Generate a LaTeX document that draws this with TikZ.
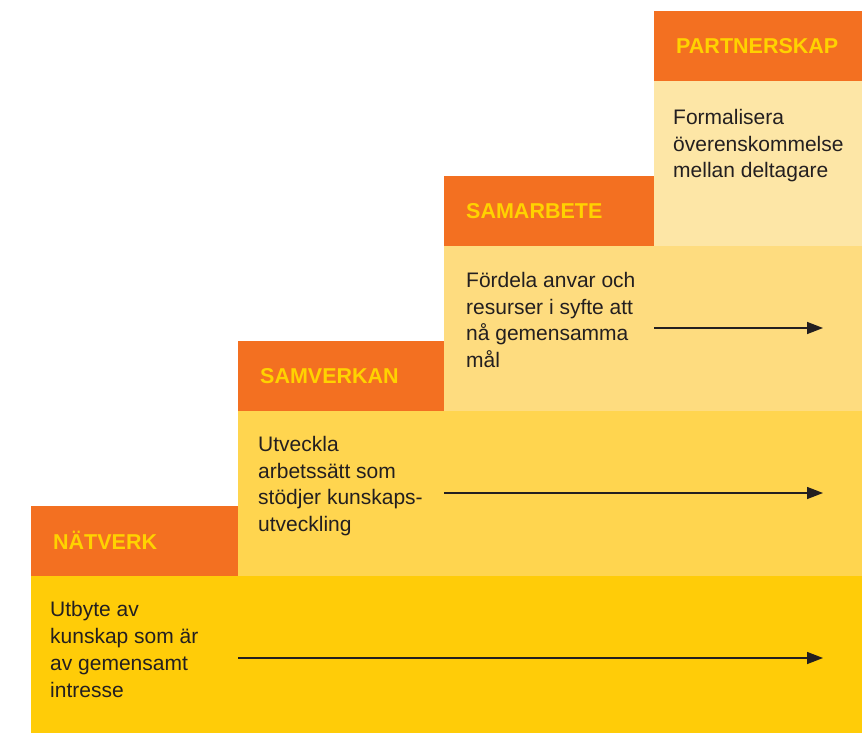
\documentclass[tikz,border=0pt]{standalone}
\usepackage{fontspec}
\setmainfont{Liberation Sans}
\usetikzlibrary{positioning, arrows.meta}
\definecolor{stegorange}{HTML}{F37021}
\definecolor{rubrikgul}{HTML}{FFD200}
\definecolor{bandett}{HTML}{FFCC08}
\definecolor{bandtva}{HTML}{FFD54F}
\definecolor{bandtre}{HTML}{FEDC7F}
\definecolor{bandfyra}{HTML}{FDE6A6}
\definecolor{textgra}{HTML}{231F20}

\begin{document}
\begin{tikzpicture}[x = 1pt, y = -1pt,
  band/.style = {anchor = north west, inner sep = 0pt, minimum height = 165pt},
  rubrik/.style = {fill = stegorange, text = rubrikgul, minimum height = 70pt,
    inner xsep = 22pt, inner ysep = 0pt, align = left,
    font = \bfseries\fontsize{21.5}{24}\selectfont},
  brodtext/.style = {inner sep = 0pt, align = left, text = textgra,
    font = \fontsize{21}{26.7}\selectfont},
  pil/.style = {-{Triangle[length = 16pt, width = 12pt]}, line width = 1.4pt, draw = textgra}]
\useasboundingbox (0, 0) rectangle (865, 733);

% steg 1
\node[band, fill = bandett, minimum width = 831pt, minimum height = 157pt] (natverkband) at (31, 576) {};
\node[rubrik, text width = 163pt, above right = 0pt and 0pt of natverkband.north west] (natverk) {NÄTVERK};
\node[brodtext, below right = 25.5pt and 19pt of natverkband.north west] (natverktext)
  {Utbyte av\\kunskap som är\\av gemensamt\\intresse};

% steg 2
\node[band, fill = bandtva, minimum width = 624pt] (samverkanband) at (238, 411) {};
\node[rubrik, text width = 162pt, above right = 0pt and 0pt of samverkanband.north west] (samverkan) {SAMVERKAN};
\node[brodtext, below right = 25pt and 20pt of samverkanband.north west] (samverkantext)
  {Utveckla\\arbetssätt som\\stödjer kunskaps-\\utveckling};

% steg 3
\node[band, fill = bandtre, minimum width = 418pt] (samarbeteband) at (444, 246) {};
\node[rubrik, text width = 166pt, above right = 0pt and 0pt of samarbeteband.north west] (samarbete) {SAMARBETE};
\node[brodtext, below right = 26pt and 22pt of samarbeteband.north west] (samarbetetext)
  {Fördela anvar och\\resurser i syfte att\\nå gemensamma\\mål};

% steg 4
\node[band, fill = bandfyra, minimum width = 208pt] (partnerskapband) at (654, 81) {};
\node[rubrik, text width = 164pt, above right = 0pt and 0pt of partnerskapband.north west] (partnerskap) {PARTNERSKAP};
\node[brodtext, below right = 28pt and 19pt of partnerskapband.north west] (partnerskaptext)
  {Formalisera\\överenskommelse\\mellan deltagare};

% pilar
\coordinate (natverkslut) at (823, 658);
\coordinate (samverkanslut) at (823, 493);
\coordinate (samarbeteslut) at (823, 328);
\draw[pil] (samverkanband.west |- natverkslut) -- (natverkslut);
\draw[pil] (samarbeteband.west |- samverkanslut) -- (samverkanslut);
\draw[pil] (partnerskapband.west |- samarbeteslut) -- (samarbeteslut);
\end{tikzpicture}
\end{document}
